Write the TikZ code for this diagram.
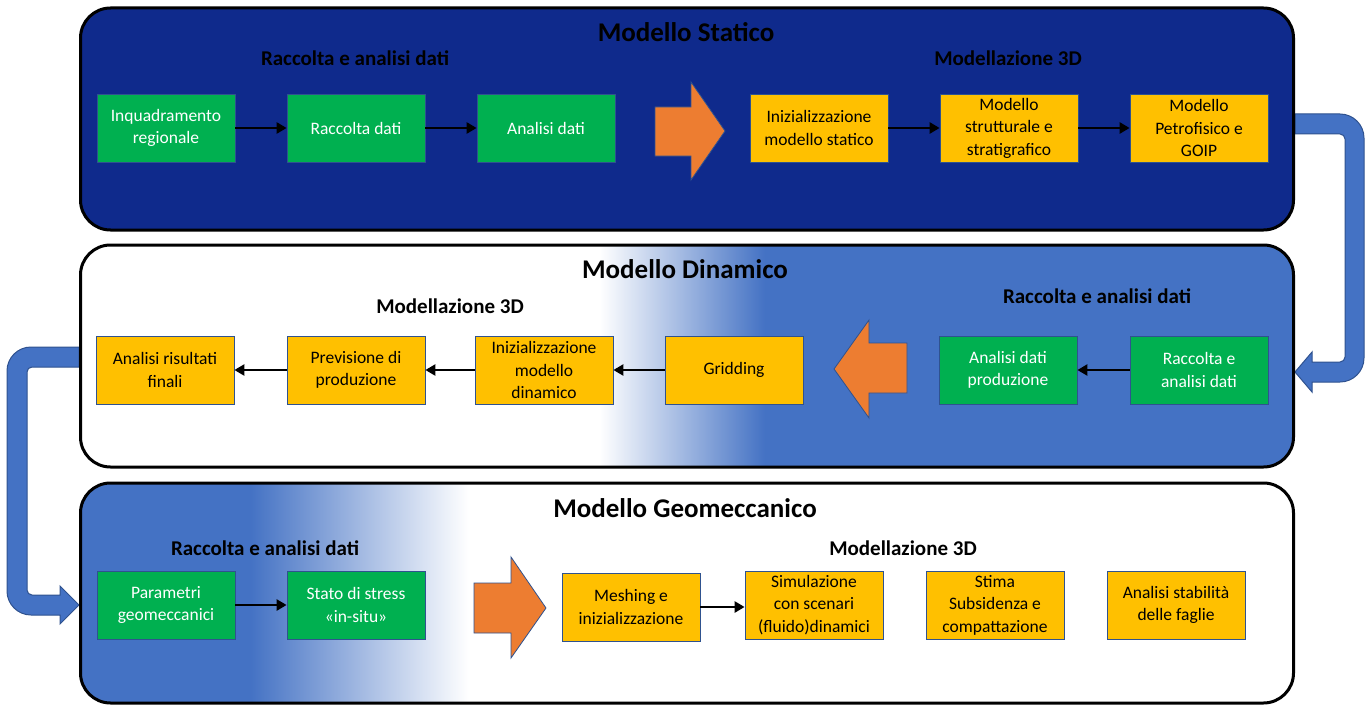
\documentclass[tikz,border=0pt]{standalone}
\usepackage{fontspec}
\setmainfont{Carlito}
\usepackage{tikz}
\usetikzlibrary{positioning,arrows.meta,calc,backgrounds}
\definecolor{cNavy}{HTML}{0F2A8C}
\definecolor{cBlue}{HTML}{4472C4}
\definecolor{cEdge}{HTML}{2F528F}
\definecolor{cGreen}{HTML}{00B050}
\definecolor{cYellow}{HTML}{FFC000}
\definecolor{cOrange}{HTML}{ED7D31}
% white -> blue across the middle of the dynamic panel
\pgfdeclarehorizontalshading{dynfade}{100bp}{color(0bp)=(white); color(46.4bp)=(white); color(53.2bp)=(cBlue); color(100bp)=(cBlue)}
% blue -> white on the left part of the geomechanical panel
\pgfdeclarehorizontalshading{geofade}{100bp}{color(0bp)=(cBlue); color(32.0bp)=(cBlue); color(41.0bp)=(white); color(100bp)=(white)}
\tikzset{
  panel/.style = {rounded corners=30pt, draw=black, line width=3pt, minimum width=1213pt,
                  minimum height=222pt, inner sep=0pt},
  blk/.style   = {draw=cEdge, line width=0.8pt, minimum width=138pt, minimum height=68pt,
                  align=center, inner sep=2pt, font=\fontsize{17.5}{22.5}\selectfont},
  grn/.style   = {blk, fill=cGreen, text=white},
  yel/.style   = {blk, fill=cYellow, text=black},
  ttl/.style   = {font=\fontsize{27}{32}\selectfont\bfseries},
  sub/.style   = {font=\fontsize{21}{25}\selectfont\bfseries},
  ar/.style    = {-{Triangle[length=10pt,width=11pt]}, line width=2.8pt},
  big/.style   = {fill=cOrange, draw=cEdge, line width=0.8pt},
  bentlink/.style = {fill=cBlue, draw=cEdge, line width=1pt},
}

\begin{document}
\begin{tikzpicture}[x=1pt, y=-1pt]
  \useasboundingbox (0,0) rectangle (1370,706);

  % ---------------- panels ----------------
  \node[panel, fill=cNavy] (stat) at (687,119) {};
  \node[panel, shade, shading=dynfade] (dyn) at (687,356) {};
  \node[panel, shade, shading=geofade, minimum height=220pt] (geo) at (687,593) {};

  \node[ttl] (tstat) at (686,32) {Modello Statico};
  \node[ttl] (tdyn) at (685,269) {Modello Dinamico};
  \node[ttl] (tgeo) at (685,508) {Modello Geomeccanico};

  % ---------------- static model ----------------
  \node[sub] (s1) at (355,58) {Raccolta e analisi dati};
  \node[sub] (s2) at (1008,58) {Modellazione 3D};
  \node[grn] (ir) at (166,128) {Inquadramento\\regionale};
  \node[grn] (rd) at (356,128) {Raccolta dati};
  \node[grn] (ad) at (546,128) {Analisi dati};
  \node[yel] (ims) at (819,128) {Inizializzazione\\modello statico};
  \node[yel] (mss) at (1009,128) {Modello\\strutturale e\\stratigrafico};
  \node[yel] (mpg) at (1199,128) {Modello\\Petrofisico e\\GOIP};
  \draw[ar] (ir) -- (rd);
  \draw[ar] (rd) -- (ad);
  \draw[ar] (ims) -- (mss);
  \draw[ar] (mss) -- (mpg);
  \draw[big] (655,107) -- (691,107) -- (691,82) -- (725,131) -- (691,180) -- (691,156) -- (655,156) -- cycle;

  % ---------------- dynamic model ----------------
  \node[sub] (d1) at (450,306) {Modellazione 3D};
  \node[sub] (d2) at (1097,296) {Raccolta e analisi dati};
  \node[yel] (arf) at (165,370) {Analisi risultati\\finali};
  \node[yel] (pdp) at (356,370) {Previsione di\\produzione};
  \node[yel] (imd) at (544,370) {Inizializzazione\\modello\\dinamico};
  \node[yel] (grd) at (734,370) {Gridding};
  \node[grn] (adp) at (1008,370) {Analisi dati\\produzione};
  \node[grn] (rad) at (1199,370) {Raccolta e\\analisi dati};
  \draw[ar] (rad) -- (adp);
  \draw[ar] (grd) -- (imd);
  \draw[ar] (imd) -- (pdp);
  \draw[ar] (pdp) -- (arf);
  \draw[big] (907,343) -- (869,343) -- (869,320) -- (834,369) -- (869,418) -- (869,393) -- (907,393) -- cycle;

  % ---------------- geomechanical model ----------------
  \node[sub] (g1) at (265,548) {Raccolta e analisi dati};
  \node[sub] (g2) at (903,548) {Modellazione 3D};
  \node[grn] (pgm) at (166,605) {Parametri\\geomeccanici};
  \node[grn] (sst) at (356,605) {Stato di stress\\«in-situ»};
  \node[yel] (mei) at (631,607) {Meshing e\\inizializzazione};
  \node[yel] (sim) at (814,605) {Simulazione\\con scenari\\(fluido)dinamici};
  \node[yel] (ssc) at (995,605) {Stima\\Subsidenza e\\compattazione};
  \node[yel] (asf) at (1176,605) {Analisi stabilità\\delle faglie};
  \draw[ar] (pgm) -- (sst);
  \draw[ar] (mei.east) -- (mei.east -| sim.west);
  \draw[big] (474,583) -- (511,583) -- (511,557) -- (546,608) -- (511,658) -- (511,633) -- (474,633) -- cycle;

  % ---------------- links between panels ----------------
  \begin{scope}[on background layer]
    \draw[bentlink] ([yshift=5pt]stat.east) [rounded corners=24pt] -- (1364,114) -- (1364,382)
      [sharp corners] -- (1312,382) -- (1312,392) -- ([yshift=-16pt]dyn.east) -- (1312,352)
      -- (1312,362) [rounded corners=5pt] -- (1345,362) -- (1345,134) [sharp corners]
      -- ([yshift=-15pt]stat.east) -- cycle;
    \draw[bentlink] ([yshift=9pt]dyn.west) [rounded corners=24pt] -- (7,347) -- (7,615)
      [sharp corners] -- (60,615) -- (60,624) -- ([yshift=-12pt]geo.west) -- (60,586)
      -- (60,595) [rounded corners=5pt] -- (27,595) -- (27,367) [sharp corners]
      -- ([yshift=-11pt]dyn.west) -- cycle;
  \end{scope}
\end{tikzpicture}
\end{document}
